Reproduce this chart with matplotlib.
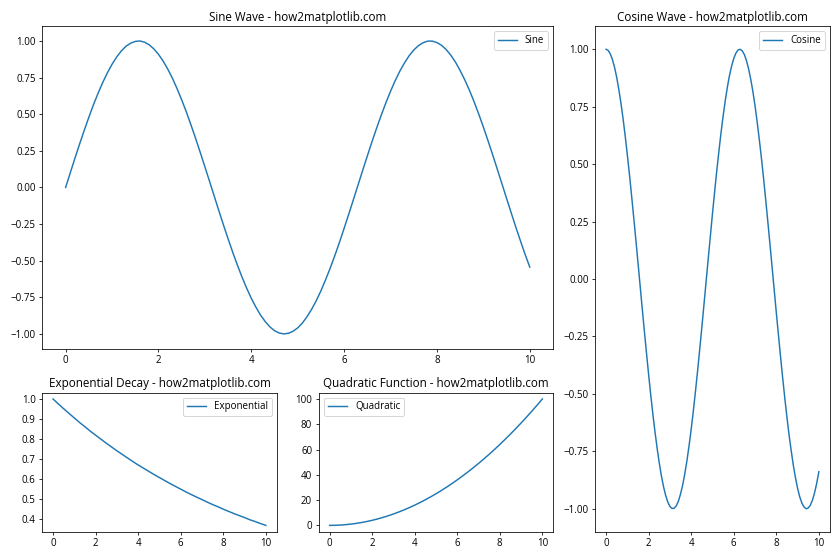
import matplotlib
matplotlib.use("Agg")
import matplotlib.pyplot as plt
from matplotlib.gridspec import GridSpec

plt.rcParams['font.family'] = ['Open Sans', 'DejaVu Sans']

# fine grid (step 0.1) for the waves
xw = [0.0, 0.1, 0.2, 0.3, 0.4, 0.5, 0.6, 0.7, 0.8, 0.9,
      1.0, 1.1, 1.2, 1.3, 1.4, 1.5, 1.6, 1.7, 1.8, 1.9,
      2.0, 2.1, 2.2, 2.3, 2.4, 2.5, 2.6, 2.7, 2.8, 2.9,
      3.0, 3.1, 3.2, 3.3, 3.4, 3.5, 3.6, 3.7, 3.8, 3.9,
      4.0, 4.1, 4.2, 4.3, 4.4, 4.5, 4.6, 4.7, 4.8, 4.9,
      5.0, 5.1, 5.2, 5.3, 5.4, 5.5, 5.6, 5.7, 5.8, 5.9,
      6.0, 6.1, 6.2, 6.3, 6.4, 6.5, 6.6, 6.7, 6.8, 6.9,
      7.0, 7.1, 7.2, 7.3, 7.4, 7.5, 7.6, 7.7, 7.8, 7.9,
      8.0, 8.1, 8.2, 8.3, 8.4, 8.5, 8.6, 8.7, 8.8, 8.9,
      9.0, 9.1, 9.2, 9.3, 9.4, 9.5, 9.6, 9.7, 9.8, 9.9, 10.0]

sine = [0.000, 0.100, 0.199, 0.296, 0.389, 0.479, 0.565, 0.644, 0.717, 0.783,
        0.841, 0.891, 0.932, 0.964, 0.985, 0.997, 1.000, 0.992, 0.974, 0.946,
        0.909, 0.863, 0.808, 0.746, 0.675, 0.598, 0.516, 0.427, 0.335, 0.239,
        0.141, 0.042, -0.058, -0.158, -0.256, -0.351, -0.443, -0.530, -0.612, -0.688,
        -0.757, -0.818, -0.872, -0.916, -0.952, -0.978, -0.994, -1.000, -0.996, -0.982,
        -0.959, -0.926, -0.883, -0.832, -0.773, -0.706, -0.631, -0.551, -0.465, -0.374,
        -0.279, -0.182, -0.083, 0.017, 0.117, 0.215, 0.312, 0.405, 0.494, 0.578,
        0.657, 0.729, 0.794, 0.850, 0.899, 0.938, 0.968, 0.988, 0.999, 0.999,
        0.989, 0.970, 0.941, 0.902, 0.855, 0.798, 0.734, 0.663, 0.585, 0.501,
        0.412, 0.319, 0.223, 0.124, 0.025, -0.075, -0.174, -0.272, -0.366, -0.458, -0.544]

cosine = [1.000, 0.995, 0.980, 0.955, 0.921, 0.878, 0.825, 0.765, 0.697, 0.622,
          0.540, 0.454, 0.362, 0.267, 0.170, 0.071, -0.029, -0.129, -0.227, -0.323,
          -0.416, -0.505, -0.589, -0.666, -0.737, -0.801, -0.857, -0.904, -0.942, -0.971,
          -0.990, -0.999, -0.998, -0.987, -0.967, -0.936, -0.897, -0.848, -0.791, -0.726,
          -0.654, -0.575, -0.490, -0.401, -0.307, -0.211, -0.112, -0.012, 0.087, 0.186,
          0.284, 0.378, 0.469, 0.554, 0.635, 0.709, 0.776, 0.835, 0.886, 0.927,
          0.960, 0.983, 0.997, 1.000, 0.993, 0.977, 0.950, 0.914, 0.869, 0.816,
          0.754, 0.684, 0.608, 0.527, 0.440, 0.347, 0.251, 0.154, 0.054, -0.046,
          -0.146, -0.243, -0.339, -0.431, -0.519, -0.602, -0.679, -0.747, -0.811, -0.865,
          -0.911, -0.948, -0.975, -0.992, -1.000, -0.997, -0.985, -0.962, -0.930, -0.889, -0.839]

# coarser grid (step 0.25) for the smooth curves
x = [0, 0.25, 0.5, 0.75, 1, 1.25, 1.5, 1.75, 2, 2.25, 2.5, 2.75, 3, 3.25, 3.5, 3.75,
     4, 4.25, 4.5, 4.75, 5, 5.25, 5.5, 5.75, 6, 6.25, 6.5, 6.75, 7, 7.25, 7.5, 7.75,
     8, 8.25, 8.5, 8.75, 9, 9.25, 9.5, 9.75, 10]

expo = [1.000, 0.975, 0.951, 0.928, 0.905, 0.882, 0.861, 0.839, 0.819, 0.799, 0.779,
        0.760, 0.741, 0.723, 0.705, 0.687, 0.670, 0.654, 0.638, 0.622, 0.607, 0.592,
        0.577, 0.563, 0.549, 0.535, 0.522, 0.509, 0.497, 0.484, 0.472, 0.461, 0.449,
        0.438, 0.427, 0.417, 0.407, 0.396, 0.387, 0.377, 0.368]

quad = [0, 0.0625, 0.25, 0.5625, 1, 1.5625, 2.25, 3.0625, 4, 5.0625, 6.25, 7.5625, 9,
        10.5625, 12.25, 14.0625, 16, 18.0625, 20.25, 22.5625, 25, 27.5625, 30.25,
        33.0625, 36, 39.0625, 42.25, 45.5625, 49, 52.5625, 56.25, 60.0625, 64, 68.0625,
        72.25, 76.5625, 81, 85.5625, 90.25, 95.0625, 100]

fig = plt.figure(figsize=(12, 8), dpi=70)
gs = GridSpec(3, 3, figure=fig)
ax1 = fig.add_subplot(gs[0:2, 0:2])
ax2 = fig.add_subplot(gs[:, 2])
ax3 = fig.add_subplot(gs[2, 0])
ax4 = fig.add_subplot(gs[2, 1])

ax1.plot(xw, sine, label='Sine')
ax1.set_title('Sine Wave - how2matplotlib.com')
ax1.legend()
ax2.plot(xw, cosine, label='Cosine')
ax2.set_title('Cosine Wave - how2matplotlib.com')
ax2.legend()
ax3.plot(x, expo, label='Exponential')
ax3.set_title('Exponential Decay - how2matplotlib.com')
ax3.legend()
ax4.plot(x, quad, label='Quadratic')
ax4.set_title('Quadratic Function - how2matplotlib.com')
ax4.legend()

plt.tight_layout()
fig.savefig('out.png', dpi=70)
